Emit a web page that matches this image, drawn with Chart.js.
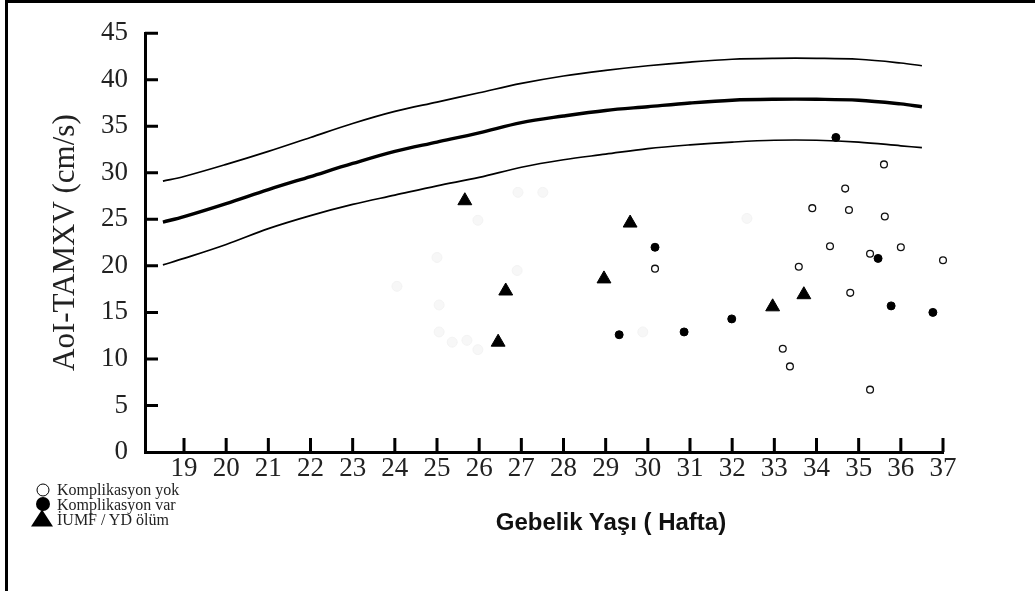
<!DOCTYPE html>
<html>
<head>
<meta charset="utf-8">
<title>AoI-TAMXV</title>
<script src="https://cdn.jsdelivr.net/npm/chart.js@4.4.1/dist/chart.umd.min.js"></script>
<style>
	html, body { margin: 0; padding: 0; background: #fff; }
	#wrap { position: relative; width: 1035px; height: 591px; overflow: hidden; }
	#frame { position: absolute; left: 5px; top: 0; width: 1030px; height: 591px; box-sizing: border-box;
		border-top: 3px solid #000; border-left: 3px solid #000; pointer-events: none; }
	canvas { position: absolute; left: 0; top: 0; }
	#xtitle { position: absolute; left: 611px; top: 522px; transform: translate(-50%, -50%);
		font: bold 24px 'Liberation Sans', Arial, sans-serif; color: #111; white-space: nowrap; }
	.row { position: absolute; left: 57px; transform: translateY(-50%); white-space: nowrap;
		font: 16px 'Liberation Serif', 'Times New Roman', serif; color: #222; }
	.sym { position: absolute; transform: translate(-50%, -50%); box-sizing: border-box; }
	.open { width: 13px; height: 13px; border: 1.4px solid #000; border-radius: 50%; background: #fff; }
	.full { width: 14px; height: 14px; border-radius: 50%; background: #000; }
	.tri { width: 0; height: 0; border-left: 11px solid transparent; border-right: 11px solid transparent;
		border-bottom: 17px solid #000; }
</style>
</head>
<body>
<div id="wrap">
	<canvas id="chart" width="1035" height="591"></canvas>
	<div id="frame"></div>
	<div id="xtitle">Gebelik Yaşı ( Hafta)</div>

	<span class="sym open" style="left:43px; top:490px;"></span>
	<div class="row" style="top:490px;">Komplikasyon yok</div>
	<span class="sym full" style="left:43px; top:504px;"></span>
	<div class="row" style="top:505px;">Komplikasyon var</div>
	<span class="sym tri" style="left:42px; top:518px;"></span>
	<div class="row" style="top:520px;">İUMF / YD ölüm</div>
</div>

<script>
'use strict';

// reference curves (upper, median, lower) per gestational week
var weeks = [18.5, 19, 20, 21, 22, 23, 24, 25, 26, 27, 28, 29, 30, 31, 32, 33, 34, 35, 36, 36.5];
var upper = [29.1, 29.6, 30.9, 32.3, 33.8, 35.3, 36.6, 37.6, 38.6, 39.6, 40.4, 41.0, 41.5, 41.9, 42.2, 42.3, 42.3, 42.2, 41.8, 41.5];
var median = [24.7, 25.3, 26.7, 28.2, 29.6, 31.0, 32.3, 33.3, 34.3, 35.4, 36.1, 36.7, 37.1, 37.5, 37.8, 37.9, 37.9, 37.8, 37.4, 37.1];
var lower = [20.1, 20.8, 22.3, 24.0, 25.4, 26.6, 27.6, 28.6, 29.5, 30.6, 31.4, 32.0, 32.6, 33.0, 33.3, 33.5, 33.5, 33.3, 32.9, 32.7];

// patients without complications
var yokWeeks = [30.17, 35.6, 34.68, 33.9, 34.77, 35.62, 34.32, 35.27, 36.0, 37.0, 33.58, 34.8, 33.2, 33.37, 35.27];
var yokValues = [19.7, 30.9, 28.3, 26.2, 26.0, 25.3, 22.1, 21.3, 22.0, 20.6, 19.9, 17.1, 11.1, 9.2, 6.7];

// patients with complications
var varWeeks = [30.17, 29.32, 30.86, 31.99, 34.46, 35.46, 35.77, 36.76];
var varValues = [22.0, 12.6, 12.9, 14.3, 33.8, 20.8, 15.7, 15.0];

// IUMF / neonatal death
var olumWeeks = [25.66, 26.45, 26.63, 28.96, 29.58, 32.96, 33.7];
var olumValues = [27.0, 11.8, 17.3, 18.6, 24.6, 15.6, 16.9];

// left-over grey marks from the scanned figure
var fadedWeeks = [25.0, 24.05, 25.05, 25.05, 25.36, 25.71, 25.97, 26.9, 26.92, 27.51, 25.97, 32.35, 29.88];
var fadedValues = [20.9, 17.8, 15.8, 12.9, 11.8, 12.0, 11.0, 19.5, 27.9, 27.9, 24.9, 25.1, 12.9];

var yTicks = [0, 5, 10, 15, 20, 25, 30, 35, 40, 45];
var xTicks = [19, 20, 21, 22, 23, 24, 25, 26, 27, 28, 29, 30, 31, 32, 33, 34, 35, 36, 37];

var pairs = function(xs, ys){
	return xs.map(function(v, i){ return {x: v, y: ys[i]}; });
};

var serif = "'Liberation Serif', 'Times New Roman', serif";

// tick marks pointing into the plot, as in the printed figure
var inwardTicks = {
	id: 'inwardTicks',
	beforeDatasetsDraw: function(chart){
		var ctx = chart.ctx, xs = chart.scales.x, ys = chart.scales.y, area = chart.chartArea;
		ctx.save();
		ctx.strokeStyle = '#000';
		ctx.lineWidth = 3;
		ctx.beginPath();
		xTicks.forEach(function(v){
			var px = xs.getPixelForValue(v);
			ctx.moveTo(px, area.bottom);
			ctx.lineTo(px, area.bottom - 14);
		});
		yTicks.forEach(function(v){
			if (v === 0) return;
			var py = ys.getPixelForValue(v);
			ctx.moveTo(area.left, py);
			ctx.lineTo(area.left + 13, py);
		});
		ctx.stroke();
		ctx.restore();
	}
};

var curve = function(values, width){
	return {
		type: 'line',
		data: pairs(weeks, values),
		borderColor: '#000',
		borderWidth: width,
		pointRadius: 0,
		tension: 0.35,
		fill: false
	};
};

var ctx = document.getElementById('chart').getContext('2d');
new Chart(ctx, {
	type: 'scatter',
	data: {
		datasets: [
			{
				label: 'İUMF / YD ölüm',
				data: pairs(olumWeeks, olumValues),
				pointStyle: 'triangle',
				pointRadius: 8,
				backgroundColor: '#000',
				borderColor: '#000',
				borderWidth: 1,
				clip: false
			},
			{
				label: 'Komplikasyon var',
				data: pairs(varWeeks, varValues),
				pointRadius: 4,
				backgroundColor: '#000',
				borderColor: '#000',
				borderWidth: 1,
				clip: false
			},
			{
				label: 'Komplikasyon yok',
				data: pairs(yokWeeks, yokValues),
				pointRadius: 3.4,
				backgroundColor: '#fff',
				borderColor: '#111',
				borderWidth: 1.3,
				clip: false
			},
			{
				label: 'faded',
				data: pairs(fadedWeeks, fadedValues),
				pointRadius: 5,
				backgroundColor: '#f7f7f7',
				borderColor: '#f3f3f3',
				borderWidth: 1
			},
			curve(upper, 1.7),
			curve(median, 3.4),
			curve(lower, 1.7)
		]
	},
	options: {
		responsive: false,
		animation: false,
		layout: { padding: { left: 0, top: 33, right: 92, bottom: 94 } },
		plugins: {
			legend: { display: false },
			tooltip: { enabled: false }
		},
		scales: {
			x: {
				type: 'linear',
				min: 18.075,
				max: 37,
				afterFit: function(s){ s.height = 45; },
				afterBuildTicks: function(s){
					s.ticks = xTicks.map(function(v){ return {value: v}; });
				},
				ticks: { font: { family: serif, size: 27 }, color: '#222', padding: 1, maxRotation: 0, autoSkip: false },
				grid: { display: false, drawTicks: false },
				border: { display: true, color: '#000', width: 3 }
			},
			y: {
				min: 0,
				max: 45,
				afterFit: function(s){ s.width = 145; },
				afterBuildTicks: function(s){
					s.ticks = yTicks.map(function(v){ return {value: v}; });
				},
				ticks: { font: { family: serif, size: 27 }, color: '#222', padding: 17 },
				grid: { display: false, drawTicks: false },
				border: { display: true, color: '#000', width: 3 },
				title: {
					display: true,
					text: 'AoI-TAMXV (cm/s)',
					font: { family: serif, size: 31 },
					color: '#222',
					padding: { top: 47, bottom: 0 }
				}
			}
		}
	},
	plugins: [inwardTicks]
});
</script>
</body>
</html>
